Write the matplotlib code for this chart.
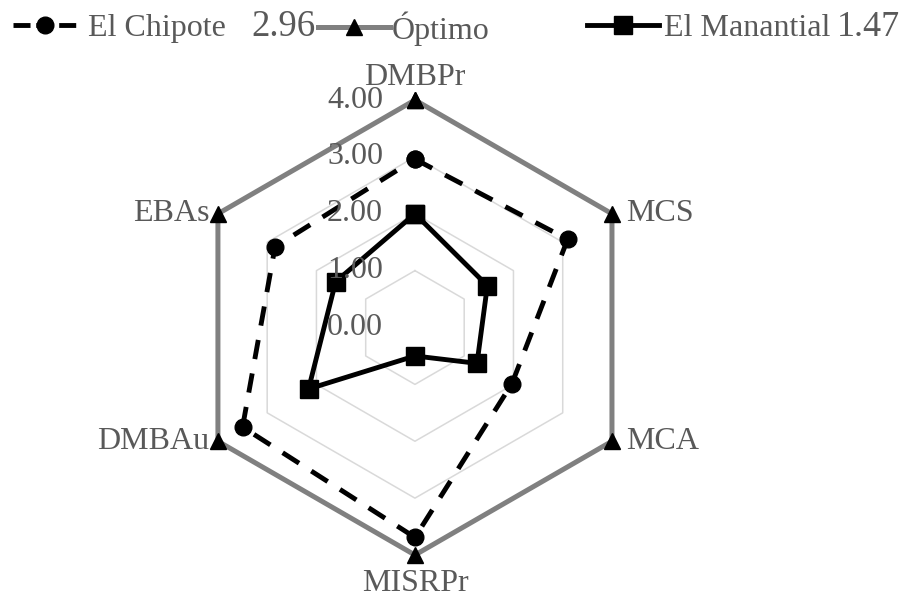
import numpy as np
import matplotlib.pyplot as plt
from matplotlib.lines import Line2D

plt.rcParams['font.family'] = ['Liberation Serif', 'DejaVu Serif']

# Indicadores y valores por finca
categorias = ['DMBPr', 'MCS', 'MCA', 'MISRPr', 'DMBAu', 'EBAs']
el_chipote = [2.96, 3.10, 1.97, 3.69, 3.50, 2.84]
optimo = [4.0, 4.0, 4.0, 4.0, 4.0, 4.0]
el_manantial = [2.00, 1.47, 1.26, 0.50, 2.16, 1.61]
niveles = [0.0, 1.0, 2.0, 3.0, 4.0]

gris_texto = '#595959'
fs = 23

fig = plt.figure(figsize=(9.06, 6.04), dpi=100)
ax = fig.add_axes([0.2069, 0.0811, 0.5022, 0.7533], projection='polar')
ax.set_theta_offset(np.pi / 2)
ax.set_theta_direction(-1)
ax.set_ylim(0, 4)
ax.grid(False)
ax.spines['polar'].set_visible(False)
ax.set_xticks([])
ax.set_yticks([])

n = len(categorias)
ang = np.linspace(0, 2 * np.pi, n, endpoint=False)
ang_c = np.append(ang, ang[0])


def cerrar(v):
    return np.append(v, v[0])


# rejilla hexagonal
for r in niveles[1:-1]:
    ax.plot(ang_c, [r] * (n + 1), color='#d9d9d9', lw=1.1, zorder=1)

ax.plot(ang_c, cerrar(optimo), color='#808080', lw=3.6, marker='^', ms=12,
        mfc='black', mec='black', clip_on=False, zorder=3)
ax.plot(ang_c, cerrar(el_chipote), color='black', lw=3.5, ls=(0, (4, 3)),
        marker='o', ms=12, clip_on=False, zorder=4)
ax.plot(ang_c, cerrar(el_manantial), color='black', lw=3.5, marker='s', ms=12.5,
        clip_on=False, zorder=5)

# etiquetas del eje radial
for r in niveles:
    ax.annotate(f'{r:.2f}', xy=(0, r), xytext=(-23, 0), textcoords='offset points',
                ha='right', va='center', fontsize=fs, color=gris_texto, zorder=6)

# nombres de los indicadores
pos = [((0, 6), 'center', 'bottom'), ((10, 0), 'left', 'center'),
       ((10, 0), 'left', 'center'), ((0, -10), 'center', 'top'),
       ((-6, 0), 'right', 'center'), ((-6, 0), 'right', 'center')]
for a, nombre, (off, ha, va) in zip(ang, categorias, pos):
    ax.annotate(nombre, xy=(a, 4), xytext=off, textcoords='offset points',
                ha=ha, va=va, fontsize=fs, color=gris_texto, annotation_clip=False)

# leyenda (una entrada por bloque)
h1 = Line2D([], [], color='black', lw=3.5, ls=(0, (3.5, 1.2)), marker='o', ms=12)
h2 = Line2D([], [], color='#808080', lw=3.6, marker='^', ms=12, mfc='black', mec='black')
h3 = Line2D([], [], color='black', lw=3.5, marker='s', ms=12.5)
entradas = [(h1, 'El Chipote', 0.0143, 2.0, 0.35),
            (h2, 'Óptimo', 0.351, 2.25, 0.05),
            (h3, 'El Manantial', 0.648, 2.25, 0.15)]
for h, lab, x, hl, pad in entradas:
    fig.legend(handles=[h], labels=[lab], loc='center left', bbox_to_anchor=(x, 0.953),
               frameon=False, fontsize=fs, labelcolor=gris_texto, handlelength=hl,
               handletextpad=pad, borderpad=0, borderaxespad=0)

fig.text(0.278, 0.955, f'{el_chipote[0]:.2f}', ha='left', va='center', fontsize=26.5, color=gris_texto)
fig.text(0.924, 0.955, f'{el_manantial[1]:.2f}', ha='left', va='center', fontsize=26, color=gris_texto)

fig.savefig('out.png', dpi=100)
